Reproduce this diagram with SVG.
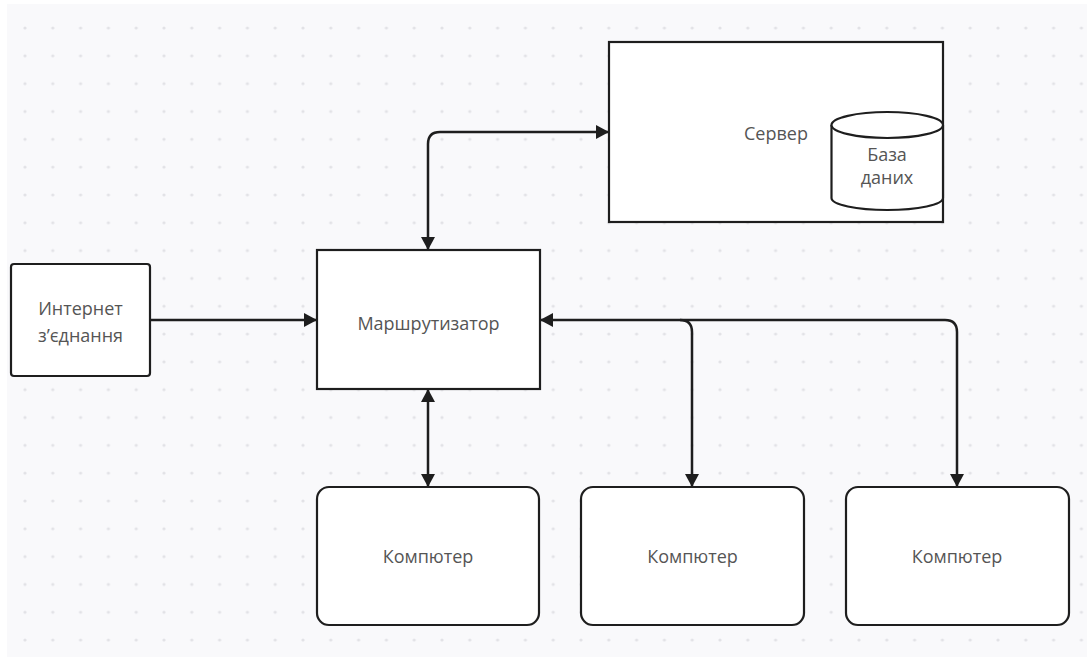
<svg xmlns="http://www.w3.org/2000/svg" width="1087" height="657" viewBox="0 0 1087 657">
<style>
.box{fill:#ffffff;stroke:#1e1e1e;stroke-width:2.2}
.lbl{font-family:"Open Sans","Noto Sans","Liberation Sans",sans-serif;font-size:18px;fill:#555555;text-anchor:middle;dominant-baseline:central}
.con{fill:none;stroke:#1e1e1e;stroke-width:2.5}
</style>
<defs>
<pattern id="dots" x="11.1" y="14.1" width="27.8" height="27.82" patternUnits="userSpaceOnUse">
<circle cx="13.9" cy="13.9" r="1.6" fill="#e2e2e6"/>
</pattern>
<marker id="arr" viewBox="0 0 13 14" refX="13" refY="7" markerWidth="13" markerHeight="14" markerUnits="userSpaceOnUse" orient="auto-start-reverse">
<path d="M0,0 L13,7 L0,14 z" fill="#1e1e1e"/>
</marker>
</defs>
<rect x="0" y="0" width="1087" height="657" fill="#ffffff"/>
<rect x="7" y="4" width="1080" height="653" fill="#f9f9fb"/>
<rect x="7" y="4" width="1080" height="653" fill="url(#dots)"/>

<g id="connectors">
<path class="con" d="M150,320 H317" marker-end="url(#arr)"/>
<path class="con" d="M428,250 V144 Q428,132 440,132 H609" marker-start="url(#arr)" marker-end="url(#arr)"/>
<path class="con" d="M428,389 V487" marker-start="url(#arr)" marker-end="url(#arr)"/>
<path class="con" d="M540,320 H680 Q692,320 692,332 V487" marker-start="url(#arr)" marker-end="url(#arr)"/>
<path class="con" d="M680,320 H945 Q957,320 957,332 V487" marker-end="url(#arr)"/>
</g>

<g id="internet">
<rect class="box" x="11" y="264" width="139" height="112" rx="3"/>
<text class="lbl" x="80.5" y="308">Интернет</text>
<text class="lbl" x="80.5" y="335">з’єднання</text>
</g>

<g id="router">
<rect class="box" x="317" y="250" width="223" height="139"/>
<text class="lbl" x="428.5" y="323">Маршрутизатор</text>
</g>

<g id="server">
<rect class="box" x="609" y="42" width="334" height="180"/>
<text class="lbl" x="776" y="133">Сервер</text>
</g>

<g id="database">
<path class="box" d="M831.5,125 V198 A55.75,12 0 0 0 943,198 V125"/>
<ellipse class="box" cx="887.25" cy="125" rx="55.75" ry="13"/>
<text class="lbl" x="887" y="154">База</text>
<text class="lbl" x="887" y="177">даних</text>
</g>

<g id="computer1">
<rect class="box" x="317" y="487" width="222" height="138" rx="12"/>
<text class="lbl" x="428" y="556">Компютер</text>
</g>

<g id="computer2">
<rect class="box" x="581" y="487" width="223" height="138" rx="12"/>
<text class="lbl" x="692.5" y="556">Компютер</text>
</g>

<g id="computer3">
<rect class="box" x="846" y="487" width="223" height="138" rx="12"/>
<text class="lbl" x="957" y="556">Компютер</text>
</g>
</svg>
